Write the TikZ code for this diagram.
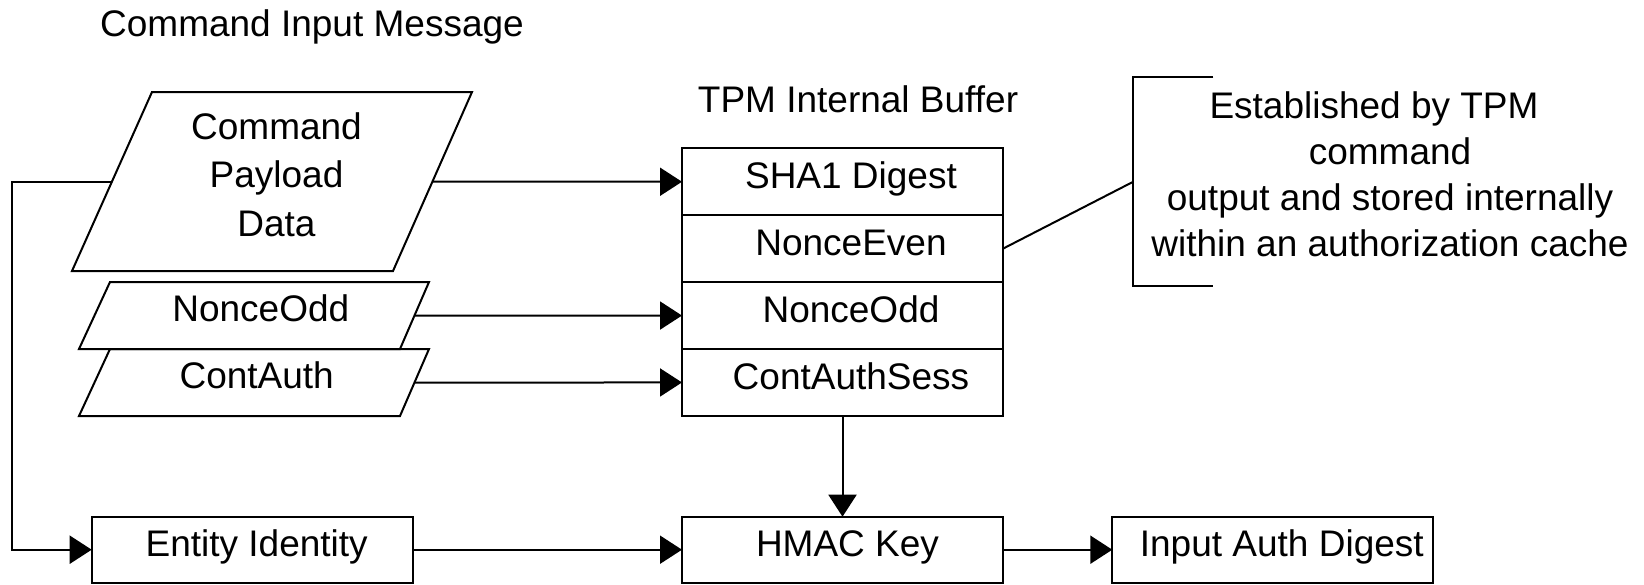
\documentclass[tikz,border=0pt]{standalone}
\usepackage{fontspec}
\setmainfont{Liberation Sans}
\usetikzlibrary{arrows.meta}
\begin{document}
\begin{tikzpicture}[x=0.5pt,y=-0.5pt,
  every node/.style={inner sep=0pt, outer sep=0pt},
  txt/.style={font=\fontsize{18.5pt}{23pt}\selectfont},
  ln/.style={line width=1pt, draw=black},
  arr/.style={ln, -{Triangle[length=11pt,width=14pt]}},
  cell/.style={txt, draw, line width=1pt, minimum width=160.5pt, minimum height=33.45pt, text height=20pt, text depth=13.45pt},
  boxx/.style={txt, draw, line width=1pt, minimum width=160.5pt, minimum height=33pt, text height=20pt, text depth=13pt}]
\useasboundingbox (0,0) rectangle (1644,584);
\fill[white] (0,0) rectangle (1644,584);

% titles
\node[txt, anchor=base] (title) at (312,36.7) {Command Input Message};
\node[txt, anchor=base] (buftitle) at (858,112.7) {TPM Internal Buffer};

% command input parallelograms
\draw[ln] (152,92) -- (472,92) -- (393,271) -- (72,271) -- cycle;
\node[txt, align=center, font=\fontsize{18.5pt}{24.2pt}\selectfont, anchor=base] (cmd) at (276.5,236) {Command\\Payload\\Data};
\coordinate (cmdL) at (112,181.7);
\coordinate (cmdR) at (432.4,181.7);

\draw[ln] (110,282) -- (429,282) -- (400,349) -- (79,349) -- cycle;
\node[txt, anchor=base] (no) at (260.8,321.7) {NonceOdd};
\coordinate (noR) at (414.3,315.5);

\draw[ln] (110,349) -- (429,349) -- (400,416) -- (79,416) -- cycle;
\node[txt, anchor=base] (ca) at (256.7,388.3) {ContAuth};
\coordinate (caR) at (414.4,382.6);

% TPM internal buffer
\node[cell] (sha) at (842.5,181.75) {\hspace*{8.5pt}SHA1 Digest};
\node[cell] (neven) at (842.5,248.65) {\hspace*{8.5pt}NonceEven};
\node[cell] (nodd) at (842.5,315.55) {\hspace*{8.5pt}NonceOdd};
\node[cell] (cas) at (842.5,382.45) {\hspace*{8.5pt}ContAuthSess};

% bottom row
\node[boxx] (ent) at (252.2,549.7) {\hspace*{4.5pt}Entity Identity};
\node[boxx] (hmac) at (842.5,549.7) {\hspace*{5pt}HMAC Key};
\node[boxx] (iad) at (1272.8,549.7) {\hspace*{9pt}Input Auth Digest};

% annotation
\coordinate (brk) at (1133.3,181.7);
\draw[ln] (1213.3,76.7) -| (1133.3,286) -- (1213.3,286);
\node[txt, align=center, font=\fontsize{18.5pt}{23.07pt}\selectfont, anchor=base] (note) at (1390,256.7)
  {Established by TPM\hspace*{16pt}\\command\hspace*{9pt}\\output and stored internally\hspace*{3.3pt}\\within an authorization cache};
\draw[ln] (neven.east) -- (brk);

% connectors
\draw[arr] (cmdR) -- (sha.west);
\draw[arr] (noR) -- (nodd.west);
\draw[arr] (caR) -- (cas.west);
\draw[arr] (cas.south) -- (hmac.north);
\draw[arr] (cmdL) -- ++(-100,0) |- (ent.west);
\draw[arr] (ent.east) -- (hmac.west);
\draw[arr] (hmac.east) -- (iad.west);
\end{tikzpicture}
\end{document}
